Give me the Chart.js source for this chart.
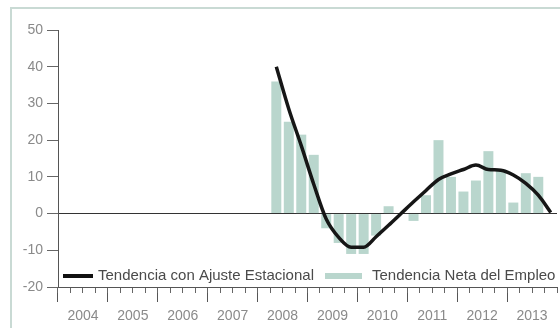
<!DOCTYPE html>
<html>
<head>
<meta charset="utf-8">
<script src="https://cdn.jsdelivr.net/npm/chart.js@4/dist/chart.umd.min.js"></script>
<style>
  html, body { margin: 0; padding: 0; background: #fff; }
  #wrap { position: relative; width: 560px; height: 328px; overflow: hidden; }
  #frame { position: absolute; left: 10px; top: 7px; width: 600px; height: 400px; border: 2px solid #c9dad4; }
  #c { position: absolute; left: 0; top: 0; }
</style>
</head>
<body>
<div id="wrap">
  <div id="frame"></div>
  <canvas id="c" width="560" height="328"></canvas>
</div>
<script>
const years = ['2004', '2005', '2006', '2007', '2008', '2009', '2010', '2011', '2012', '2013'];
const quarters = ['T1', 'T2', 'T3', 'T4'];
const yTicks = [-20, -10, 0, 10, 20, 30, 40, 50];

// values from 2008 T2 to 2013 T4
const firstQuarter = 17;
const netEmployment = [36, 25, 21.5, 16, -4, -8, -11, -11, -6, 2, 0, -2, 5, 20, 10, 6, 9, 17, 12, 3, 11, 10, 0];
const seasonalTrend = [40, 28.5, 18.5, 8, -1.5, -6.5, -9.2, -9.2, -6.3, -3.2, 0, 3.2, 6.3, 9.3, 10.8, 12, 13.2, 12, 11.8, 10.5, 8.2, 5, 0.3];

const labelTrend = 'Tendencia con Ajuste Estacional';
const labelNet = 'Tendencia Neta del Empleo';

const labels = [];
years.forEach(y => quarters.forEach(q => labels.push(y + ' ' + q)));
const pad = Array(firstQuarter).fill(null);

const FONT = "'Liberation Sans', Arial, sans-serif";
const barColor = '#b9d6cd';

const legendPlugin = {
    id: 'inlineLegend',
    afterDraw(chart) {
        const c = chart.ctx;
        const area = chart.chartArea;
        const y = chart.scales.y.getPixelForValue(-20) - 11;
        c.save();
        c.font = '15px ' + FONT;
        c.textBaseline = 'middle';
        c.fillStyle = '#4a4a4a';
        c.strokeStyle = '#111';
        c.lineWidth = 4;
        c.beginPath();
        c.moveTo(area.left + 5, y);
        c.lineTo(area.left + 35, y);
        c.stroke();
        c.fillText(labelTrend, area.left + 40, y);
        c.fillStyle = barColor;
        c.fillRect(area.left + 267, y - 3, 37, 6);
        c.fillStyle = '#4a4a4a';
        c.fillText(labelNet, area.left + 314, y);
        c.restore();
    }
};

new Chart(document.getElementById('c').getContext('2d'), {
    type: 'bar',
    data: {
        labels: labels,
        datasets: [
            {
                type: 'line',
                label: labelTrend,
                data: pad.concat(seasonalTrend),
                borderColor: '#161616',
                borderWidth: 3.5,
                pointRadius: 0,
                cubicInterpolationMode: 'monotone',
                fill: false,
                order: 0
            },
            {
                type: 'bar',
                label: labelNet,
                data: pad.concat(netEmployment),
                backgroundColor: barColor,
                barPercentage: 0.8,
                categoryPercentage: 1,
                order: 1
            }
        ]
    },
    options: {
        responsive: false,
        animation: false,
        layout: { padding: { top: 30, right: 3, left: 0, bottom: 0 } },
        plugins: { legend: { display: false }, tooltip: { enabled: false } },
        scales: {
            x: {
                type: 'category',
                offset: true,
                afterFit: s => { s.height = 41; },
                grid: {
                    offset: true,
                    drawOnChartArea: false,
                    tickLength: 15,
                    tickColor: ctx => ctx.index % 4 === 0 ? '#555' : 'rgba(0,0,0,0)'
                },
                border: { display: true, color: '#555', width: 1 },
                ticks: {
                    autoSkip: false,
                    maxRotation: 0,
                    padding: 6,
                    labelOffset: 6.24,
                    color: '#8a8a8a',
                    font: { family: FONT, size: 14 },
                    callback: (v, i) => i % 4 === 1 ? years[Math.floor(i / 4)] : ''
                }
            },
            xq: {
                type: 'category',
                labels: labels,
                offset: true,
                position: { y: -20 },
                grid: { offset: true, drawOnChartArea: false, tickLength: 6, tickColor: '#666' },
                border: { display: false },
                ticks: { display: false }
            },
            y: {
                min: -20,
                max: 50,
                z: 1,
                afterFit: s => { s.width = 58; },
                afterBuildTicks: s => { s.ticks = yTicks.map(v => ({ value: v })); },
                grid: {
                    color: ctx => ctx.tick && ctx.tick.value === 0 ? '#333' : 'rgba(0,0,0,0)',
                    tickColor: '#666',
                    tickLength: 11
                },
                border: { display: true, color: '#555', width: 1 },
                ticks: {
                    padding: 4,
                    color: '#8a8a8a',
                    font: { family: FONT, size: 14 }
                }
            }
        }
    },
    plugins: [legendPlugin]
});
</script>
</body>
</html>
